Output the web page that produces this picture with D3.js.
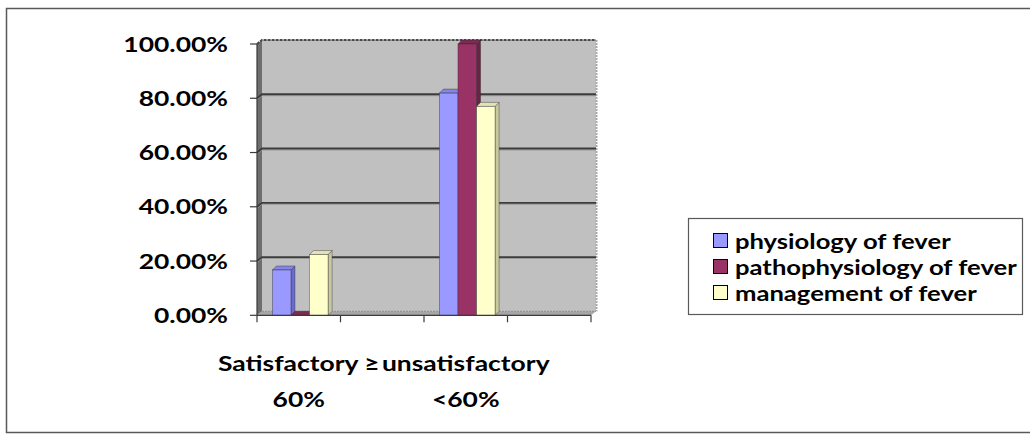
<!DOCTYPE html>
<html>
<head>
<meta charset="utf-8">
<script src="https://cdn.jsdelivr.net/npm/d3@7/dist/d3.min.js"></script>
<style>
  html, body { margin: 0; padding: 0; background: #fff; }
  svg { display: block; }
  text { font-family: Lato, "Open Sans", "Liberation Sans", sans-serif; font-weight: 700; fill: #000; }
</style>
</head>
<body>
<svg id="chart" width="1030" height="441"></svg>
<script>
// Categories along the x axis (two spacer slots keep the original column layout)
const categories = ["Satisfactory ≥60%", "spacer-1", "unsatisfactory <60%", "spacer-2"];
const categoryLines = [["Satisfactory ≥", "60%"], [], ["unsatisfactory", "<60%"], []];

// Series and their values (share of respondents)
const seriesNames = ["physiology of fever", "pathophysiology of fever", "management of fever"];
const physiology      = [0.167, null, 0.819, null];
const pathophysiology = [0.0,   null, 1.0,   null];
const management      = [0.224, null, 0.770, null];
const seriesValues = [physiology, pathophysiology, management];

const yTicks = [0, 0.2, 0.4, 0.6, 0.8, 1.0];

// Colours: front face, side face, top face
const seriesColors = [
  { front: "#9999ff", side: "#6b6bcc", top: "#8585e6" },
  { front: "#993366", side: "#6a2347", top: "#7d2a54" },
  { front: "#ffffcc", side: "#c9c99f", top: "#e2e2b4" }
];

const svg = d3.select("#chart");
const stretch = 1.26;          // wide bold lettering
const depth = { dx: 5, dy: -4 };  // 3-D depth of the walls
const barDepth = 4;

// Outer chart border
svg.append("rect")
  .attr("x", 6.5).attr("y", 8.5).attr("width", 1030).attr("height", 424)
  .attr("fill", "none").attr("stroke", "#595959").attr("stroke-width", 1.5);

const x0 = d3.scaleBand().domain(categories).range([257, 591]).padding(0);
const y = d3.scaleLinear().domain([0, 1]).range([315.3, 44]);
const x1 = d3.scaleBand().domain(seriesNames)
  .range([x0.bandwidth() / 6, x0.bandwidth() * 5 / 6]).padding(0);

const left = x0.range()[0], right = x0.range()[1];
const y0 = y(0), yTop = y(1);

// Back wall
svg.append("rect")
  .attr("x", left + depth.dx).attr("y", yTop + depth.dy)
  .attr("width", right - left).attr("height", y0 - yTop)
  .attr("fill", "#c0c0c0");
// right edge of the back wall
svg.append("line")
  .attr("x1", right + depth.dx + 0.5).attr("x2", right + depth.dx + 0.5)
  .attr("y1", yTop + depth.dy).attr("y2", y0 + depth.dy)
  .attr("stroke", "#a8a8a8").attr("stroke-width", 2).attr("stroke-dasharray", "2,1");

// Floor
svg.append("path")
  .attr("d", `M${left},${y0} L${right},${y0} L${right + depth.dx},${y0 + depth.dy} L${left + depth.dx},${y0 + depth.dy} Z`)
  .attr("fill", "#a6a6a6");

// Left side wall
svg.append("path")
  .attr("d", `M${left},${y0} L${left},${yTop} L${left + depth.dx},${yTop + depth.dy} L${left + depth.dx},${y0 + depth.dy} Z`)
  .attr("fill", "#6e6e6e");

// Gridlines on back wall and side wall
yTicks.filter(t => t > 0 && t < 1).forEach(t => {
  const yy = y(t);
  svg.append("path")
    .attr("d", `M${left},${yy + 1.5} L${left + depth.dx},${yy + depth.dy + 1.5} L${right + depth.dx},${yy + depth.dy + 1.5}`)
    .attr("fill", "none").attr("stroke", "#9a9a9a").attr("stroke-width", 1);
  svg.append("path")
    .attr("d", `M${left},${yy} L${left + depth.dx},${yy + depth.dy} L${right + depth.dx},${yy + depth.dy}`)
    .attr("fill", "none").attr("stroke", "#3c3c3c").attr("stroke-width", 1.8);
});
// Top edge of back wall
svg.append("path")
  .attr("d", `M${left},${yTop} L${left + depth.dx},${yTop + depth.dy} L${right + depth.dx},${yTop + depth.dy}`)
  .attr("fill", "none").attr("stroke", "#4a4a4a").attr("stroke-width", 2).attr("stroke-dasharray", "3,1");
// Floor back edge
svg.append("line")
  .attr("x1", left + depth.dx).attr("x2", right + depth.dx)
  .attr("y1", y0 + depth.dy).attr("y2", y0 + depth.dy)
  .attr("stroke", "#8c8c8c").attr("stroke-width", 1).attr("stroke-dasharray", "2,1");

// Bars (front, side, top faces)
const bars = svg.append("g");
categories.forEach((cat, ci) => {
  seriesNames.forEach((s, si) => {
    const v = seriesValues[si][ci];
    if (v === null || v === undefined) return;
    const bx = x0(cat) + x1(s) + 1.5;
    const bw = x1.bandwidth();
    const by = y(v);
    const c = seriesColors[si];
    const g = bars.append("g").attr("stroke", "rgba(40,40,40,0.55)").attr("stroke-width", 0.7);
    g.append("path")
      .attr("d", `M${bx + bw},${by} L${bx + bw + barDepth},${by - barDepth} L${bx + bw + barDepth},${y0 - barDepth} L${bx + bw},${y0} Z`)
      .attr("fill", c.side);
    g.append("path")
      .attr("d", `M${bx},${by} L${bx + barDepth},${by - barDepth} L${bx + bw + barDepth},${by - barDepth} L${bx + bw},${by} Z`)
      .attr("fill", c.top);
    g.append("rect")
      .attr("x", bx).attr("y", by).attr("width", bw).attr("height", Math.max(0, y0 - by))
      .attr("fill", c.front);
  });
});

// Value axis (front edge) with ticks and labels
svg.append("line")
  .attr("x1", left).attr("x2", left).attr("y1", yTop).attr("y2", y0)
  .attr("stroke", "#3a3a3a").attr("stroke-width", 1.2);
const yAxis = svg.append("g");
yTicks.forEach(t => {
  yAxis.append("line")
    .attr("x1", left - 7).attr("x2", left).attr("y1", y(t)).attr("y2", y(t))
    .attr("stroke", "#3a3a3a").attr("stroke-width", 1.2);
  yAxis.append("text")
    .attr("transform", `translate(228,${y(t) + 7.5}) scale(${stretch},1)`)
    .attr("text-anchor", "end")
    .attr("font-size", 21)
    .text(d3.format(".2%")(t));
});

// Category axis
svg.append("line")
  .attr("x1", left).attr("x2", right).attr("y1", y0).attr("y2", y0)
  .attr("stroke", "#3a3a3a").attr("stroke-width", 1.2);
const catEdges = categories.map(c => x0(c)).concat([right]);
catEdges.forEach(xe => {
  svg.append("line")
    .attr("x1", xe).attr("x2", xe).attr("y1", y0).attr("y2", y0 + 7)
    .attr("stroke", "#3a3a3a").attr("stroke-width", 1.2);
});
categories.forEach((cat, ci) => {
  categoryLines[ci].forEach((line, li) => {
    svg.append("text")
      .attr("transform", `translate(${x0(cat) + x0.bandwidth() / 2},${371 + li * 36}) scale(${stretch},1)`)
      .attr("text-anchor", "middle")
      .attr("font-size", 21)
      .text(line);
  });
});

// Legend
const legend = svg.append("g");
legend.append("rect")
  .attr("x", 688.5).attr("y", 218.5).attr("width", 334).attr("height", 96)
  .attr("fill", "#fff").attr("stroke", "#595959").attr("stroke-width", 1.2);
seriesNames.forEach((s, i) => {
  const cy = 241 + i * 26;
  legend.append("rect")
    .attr("x", 713.5).attr("y", cy - 7.5).attr("width", 14).attr("height", 14)
    .attr("fill", seriesColors[i].front).attr("stroke", "#000").attr("stroke-width", 1);
  legend.append("text")
    .attr("transform", `translate(735,${cy + 7.5}) scale(1.22,1)`)
    .attr("font-size", 21)
    .text(s);
});
</script>
</body>
</html>
